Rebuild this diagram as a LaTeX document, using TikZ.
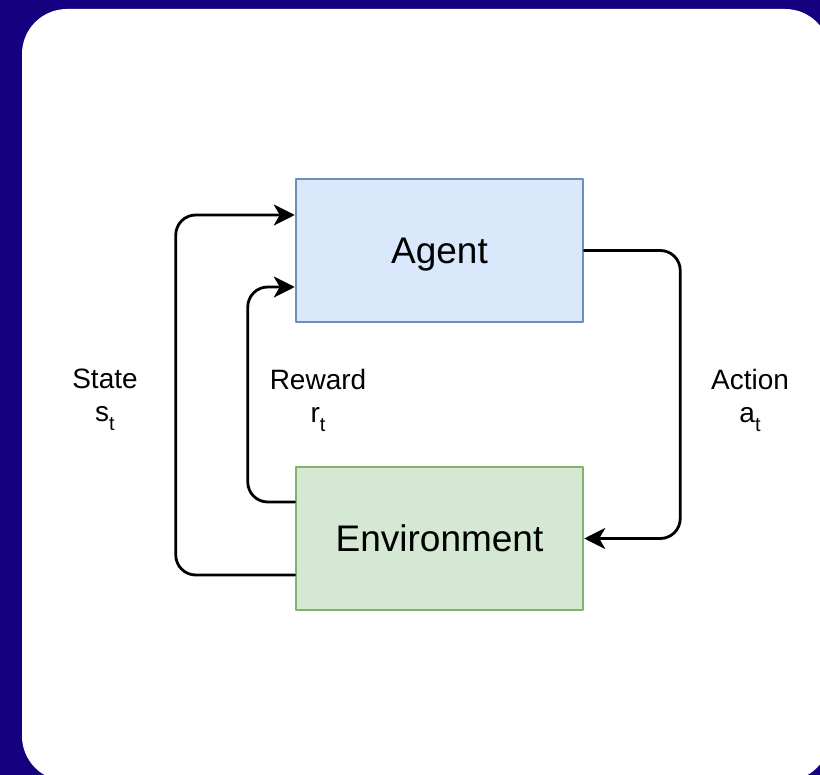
\documentclass[tikz,border=0pt]{standalone}
\usepackage{fontspec}
\setmainfont{Liberation Sans}
\usetikzlibrary{arrows.meta}
\definecolor{bgindigo}{RGB}{21,0,128}
\definecolor{agentfill}{HTML}{DAE8FC}
\definecolor{agentline}{HTML}{6C8EBF}
\definecolor{envfill}{HTML}{D5E8D4}
\definecolor{envline}{HTML}{82B366}
\newcommand{\chiso}[1]{\raisebox{-0.32em}{\fontsize{20}{20}\selectfont #1}}
\begin{document}
\begin{tikzpicture}[x=1pt,y=-1pt,>={Stealth[length=21pt,width=21pt,inset=6pt]}, line join=round, line cap=round,
		hop/.style={draw=#1, line width=2.5pt, minimum width=287pt, minimum height=143pt, text depth=0pt, font=\fontsize{37}{44}\selectfont},
		nhan/.style={align=center, font=\fontsize{28}{33}\selectfont},
		day/.style={->, line width=2.8pt, rounded corners=20pt}]
	\useasboundingbox (0,0) rectangle (820,775);
	% nen
	\fill[bgindigo] (0,0) rectangle (820,775);
	\fill[white, rounded corners=45pt] (22,9) rectangle (830,781);
	% hai khoi
	\node[hop=agentline, fill=agentfill] (agent) at (439.5,250.5) {Agent};
	\node[hop=envline, fill=envfill] (env) at (439.5,538.5) {Environment};
	% nhan
	\node[nhan] (state) at (105,400) {State\\s\chiso{t}};
	\node[nhan] (reward) at (318,400) {Reward\\r\chiso{t}};
	\node[nhan] (action) at (750,400) {Action\\a\chiso{t}};
	% cac mui ten
	\draw[day] ([yshift=-36.5pt]env.west) -- ++(-119,0) |- ([yshift=35.5pt]agent.west);
	\draw[day] ([yshift=36.5pt]env.west) -- ++(-47,0) |- ([yshift=-36.5pt]agent.west);
	\draw[day] (agent.east) -- ++(96,0) |- (env.east);
\end{tikzpicture}
\end{document}
